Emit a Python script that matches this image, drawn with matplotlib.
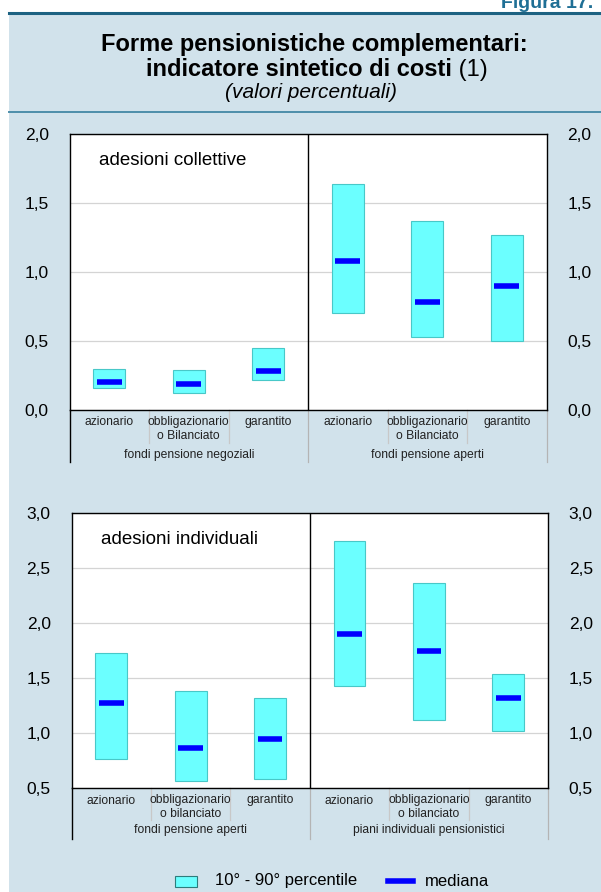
import matplotlib.pyplot as plt
from matplotlib.patches import Rectangle
from matplotlib.lines import Line2D

plt.rcParams['font.family'] = ['Liberation Sans', 'DejaVu Sans']

# dati (valori percentuali)
cat_top = ['azionario', 'obbligazionario\no Bilanciato', 'garantito']
cat_bot = ['azionario', 'obbligazionario\no bilanciato', 'garantito']
groups_top = ['fondi pensione negoziali', 'fondi pensione aperti']
groups_bot = ['fondi pensione aperti', 'piani individuali pensionistici']

coll_p10 = [0.16, 0.12, 0.22, 0.70, 0.53, 0.50]
coll_p90 = [0.30, 0.29, 0.45, 1.64, 1.37, 1.27]
coll_med = [0.20, 0.19, 0.28, 1.08, 0.78, 0.90]

ind_p10 = [0.76, 0.56, 0.58, 1.43, 1.12, 1.02]
ind_p90 = [1.73, 1.38, 1.32, 2.75, 2.36, 1.54]
ind_med = [1.27, 0.86, 0.95, 1.90, 1.75, 1.32]

W, H = 601, 892
BG = '#d1e2eb'
CYAN = '#6bffff'

fig = plt.figure(figsize=(W / 100, H / 100), dpi=100)
fig.patch.set_facecolor('white')

def fx(px):
    return px / W

def fy(py):
    return 1 - py / H

# sfondo azzurro e linee del titolo
fig.add_artist(Rectangle((fx(9), 0), 1 - fx(9), fy(13), transform=fig.transFigure,
                         facecolor=BG, edgecolor='none', zorder=0))
fig.add_artist(Line2D([fx(9), 1], [fy(12.5), fy(12.5)], transform=fig.transFigure,
                      color='#1d6282', lw=2.2))
fig.add_artist(Line2D([fx(9), 1], [fy(112), fy(112)], transform=fig.transFigure,
                      color='#4d8eaa', lw=1.4))
# intestazione tagliata in alto come nell'originale
fig.text(fx(501), fy(7.5), 'Figura 17.', ha='left', va='baseline', color='#1f6f95',
         fontsize=14, fontweight='bold')

fig.text(fx(314), fy(44), 'Forme pensionistiche complementari:', ha='center',
         va='center', fontsize=17, fontweight='bold')
t1 = fig.text(0, fy(70), 'indicatore sintetico di costi', ha='left', va='center',
              fontsize=17, fontweight='bold')
t2 = fig.text(0, fy(70), '\u00a0(1)', ha='left', va='center', fontsize=17)
r = fig.canvas.get_renderer()
w1 = t1.get_window_extent(r).width
w2 = t2.get_window_extent(r).width
x_start = 317 - (w1 + w2) / 2
t1.set_x(fx(x_start))
t2.set_x(fx(x_start + w1))
fig.text(fx(311), fy(93), '(valori percentuali)', ha='center', va='center',
         fontsize=15, style='italic')


def panel(x0, x1, ytop, ybot, p10, p90, med, ylim, yticks, cats, groups, label, offs):
    ax = fig.add_axes([fx(x0), fy(ybot), fx(x1) - fx(x0), (ybot - ytop) / H])
    ax.set_facecolor('white')
    x = list(range(len(med)))
    heights = [b - a for a, b in zip(p10, p90)]
    ax.bar(x, heights, bottom=p10, width=0.4, color=CYAN, edgecolor='#48c8c8',
           linewidth=0.8, zorder=2)
    ax.hlines(med, [i - 0.155 for i in x], [i + 0.155 for i in x], color='#0000ff',
              lw=4, zorder=3)
    ax.set_xlim(-0.5, 5.5)
    ax.set_ylim(*ylim)
    ax.set_yticks(yticks)
    ax.set_yticklabels([('%.1f' % t).replace('.', ',') for t in yticks], fontsize=12.5)
    ax.tick_params(axis='y', length=0, pad=15, labelright=True, right=False)
    ax.set_xticks([])
    ax.grid(axis='y', color='#d4d4d4', lw=0.9, zorder=0)
    ax.set_axisbelow(True)
    for s in ax.spines.values():
        s.set_linewidth(1.0)
    ax.axvline(2.5, color='black', lw=1.0, zorder=4)
    ax.text(0.062, 0.905, label, transform=ax.transAxes, fontsize=13.5, va='center')

    # etichette e linee sotto l'asse
    tr = ax.get_xaxis_transform()
    h = ybot - ytop
    first, sep_end, grp_y, grp_end = offs
    for i, lab in enumerate(cats + cats):
        ax.text(i, -(first - 6) / h, lab, transform=tr, ha='center', va='top',
                fontsize=8.7, linespacing=1.2, color='#222222')
    for i in [0.5, 1.5, 3.5, 4.5]:
        ax.plot([i, i], [0, -sep_end / h], transform=tr, color='#c8c8c8', lw=0.9,
                clip_on=False)
    for i in [2.5, 5.5]:
        ax.plot([i, i], [0, -grp_end / h], transform=tr, color='#b4b4b4', lw=0.9,
                clip_on=False)
    ax.plot([-0.5, -0.5], [0, -grp_end / h], transform=tr, color='black', lw=1.0,
            clip_on=False)
    for g, xc in zip(groups, [1, 4]):
        ax.text(xc, -grp_y / h, g, transform=tr, ha='center', va='center',
                fontsize=8.7, color='#222222')
    return ax


panel(69.5, 546.5, 134, 410, coll_p10, coll_p90, coll_med, (0, 2.0),
      [0.0, 0.5, 1.0, 1.5, 2.0], cat_top, groups_top, 'adesioni collettive',
      (12, 33, 45, 52))

panel(71.5, 548, 513, 788, ind_p10, ind_p90, ind_med, (0.5, 3.0),
      [0.5, 1.0, 1.5, 2.0, 2.5, 3.0], cat_bot, groups_bot, 'adesioni individuali',
      (12.5, 32, 42.5, 51))

# legenda
fig.add_artist(Rectangle((fx(175), fy(887)), fx(197) - fx(175), 11 / H,
                         transform=fig.transFigure, facecolor=CYAN,
                         edgecolor='#2d7c7c', lw=0.8))
fig.text(fx(215), fy(881), '10° - 90° percentile', va='center', fontsize=12)
fig.add_artist(Line2D([fx(388), fx(413)], [fy(881), fy(881)], transform=fig.transFigure,
                      color='#0000ff', lw=4))
fig.text(fx(425), fy(881), 'mediana', va='center', fontsize=12)

fig.savefig('out.png', dpi=100)
